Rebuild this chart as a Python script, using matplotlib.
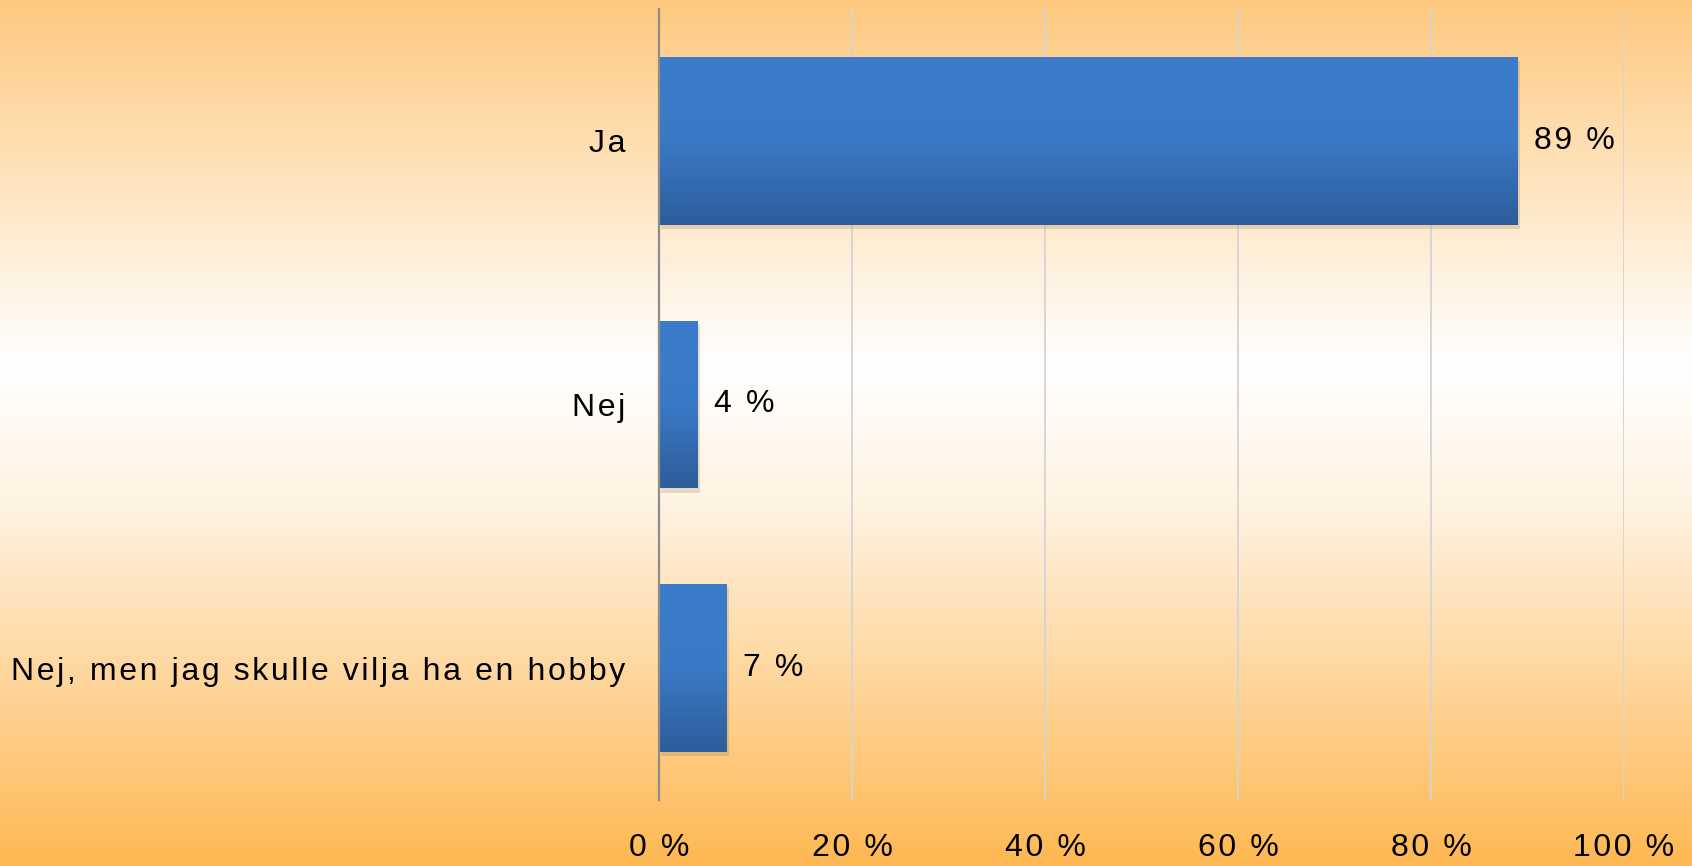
import numpy as np
import matplotlib
matplotlib.use("Agg")
import matplotlib.pyplot as plt
from matplotlib.colors import LinearSegmentedColormap
import matplotlib.patheffects as pe

categories = ["Ja", "Nej", "Nej, men jag skulle vilja ha en hobby"]
values = [89, 4, 7]
value_labels = ["89 %", "4 %", "7 %"]
xticks = [0, 20, 40, 60, 80, 100]
xtick_labels = ["0 %", "20 %", "40 %", "60 %", "80 %", "100 %"]

plt.rcParams['font.family'] = ['Liberation Sans', 'DejaVu Sans']
FS = 23


def track(s):
    # emulate the wide letter spacing of the original with hair spaces
    return "\u200a".join(s)


fig = plt.figure(figsize=(16.92, 8.66), dpi=100)

# background gradient
bg = fig.add_axes([0, 0, 1, 1], zorder=0)
bg_cmap = LinearSegmentedColormap.from_list(
    "bg", [(0.0, "#FEC97F"), (0.42, "#FFFFFF"), (0.58, "#FFF3E2"), (1.0, "#FEB853")])
grad = np.linspace(0, 1, 512).reshape(-1, 1)
bg.imshow(grad, aspect="auto", cmap=bg_cmap, extent=[0, 1, 0, 1], origin="upper")
bg.set_axis_off()

ax = fig.add_axes([659/1692, 66/866, (1624-659)/1692, (800-9)/866], zorder=1)
ax.set_facecolor("none")

y = np.arange(len(categories))
bars = ax.barh(y, values, height=0.636, color="#3470B8", zorder=3,
               path_effects=[pe.SimplePatchShadow(offset=(1.5, -3), shadow_rgbFace="#8a7050", alpha=0.22),
                             pe.Normal()])

bar_cmap = LinearSegmentedColormap.from_list("bar", ["#3B7DCB", "#3A79C6", "#2E5D9A"])
for b in bars:
    x0, y0, w, h = b.get_x(), b.get_y(), b.get_width(), b.get_height()
    im = ax.imshow(np.linspace(0, 1, 256).reshape(-1, 1), aspect="auto", cmap=bar_cmap,
                   extent=[x0, x0 + w, y0 + h, y0], origin="upper", zorder=4)
    im.set_clip_path(b)

for b, lab in zip(bars, value_labels):
    ax.annotate(track(lab), xy=(b.get_width(), b.get_y() + b.get_height() / 2),
                xytext=(11.5, 0), textcoords="offset points",
                va="center", ha="left", fontsize=FS, color="#000000", zorder=5)

ax.set_xlim(0, 100)
ax.set_ylim(2.5, -0.5)
ax.set_yticks(y)
ax.set_yticklabels([track(c) for c in categories], fontsize=FS)
ax.set_xticks(xticks)
ax.set_xticklabels([track(t) for t in xtick_labels], fontsize=FS)
ax.tick_params(axis="y", length=0, pad=24)
ax.tick_params(axis="x", length=0, pad=24)
ax.grid(axis="x", color="#D4D4D4", linewidth=1.3, zorder=1)
ax.set_axisbelow(True)
for s in ["top", "right", "bottom"]:
    ax.spines[s].set_visible(False)
ax.spines["left"].set_color("#8C8C8C")
ax.spines["left"].set_linewidth(1.6)
ax.spines["left"].set_zorder(6)

fig.savefig("out.png", dpi=100)
